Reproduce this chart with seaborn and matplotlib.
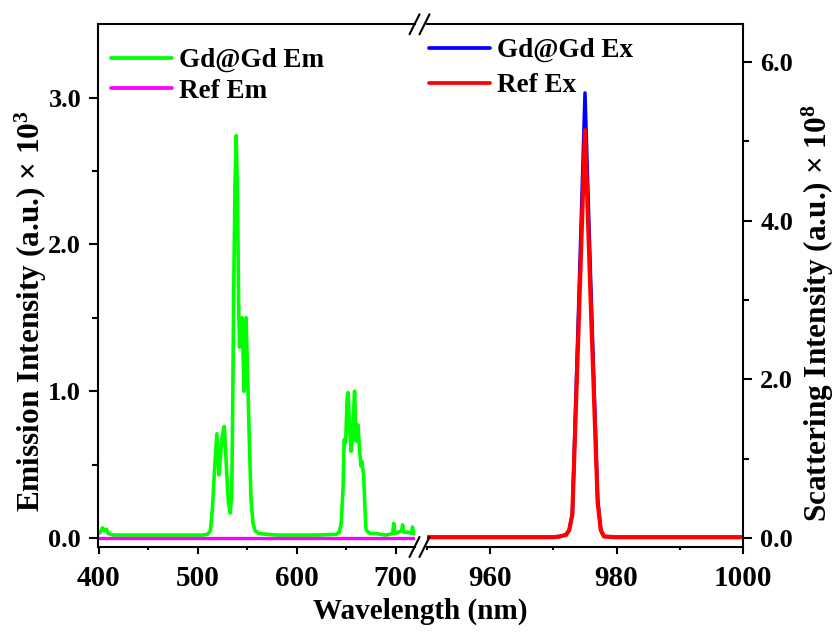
import numpy as np
import pandas as pd
import matplotlib
matplotlib.use("Agg")
import matplotlib.pyplot as plt
from matplotlib.lines import Line2D
from matplotlib.ticker import MultipleLocator, FixedLocator
import seaborn as sns

# ---------------- data ----------------
em_wavelength = [400, 402, 404, 406, 408, 410, 415, 430, 450, 470, 490, 505, 510, 513, 515, 517,
                 519.5, 521.5, 523, 525, 527, 529, 531, 533, 534.5, 535.5, 536.4, 537.8, 539, 540.4,
                 541.4, 542.4, 543.5, 545, 547, 548, 549, 551, 552.5, 554, 556, 558, 562, 580, 600,
                 620, 640, 643, 645, 646.9, 648, 649.5, 651, 652, 653.5, 655, 656.5, 658.5, 660,
                 661, 662, 663.5, 665, 666, 667.7, 669, 670, 672, 675, 680, 690, 697, 698, 699,
                 703, 706, 707, 708, 712, 716, 717, 718, 720]
gdgd_em = [0.03, 0.04, 0.07, 0.05, 0.06, 0.03, 0.02, 0.02, 0.02, 0.02, 0.02, 0.02, 0.025, 0.05, 0.2, 0.45,
           0.71, 0.43, 0.55, 0.70, 0.76, 0.50, 0.25, 0.17, 0.30, 0.90, 1.62, 2.41, 2.74, 2.30,
           1.62, 1.30, 1.45, 1.50, 1.00, 1.30, 1.50, 0.99, 0.60, 0.26, 0.10, 0.05, 0.03, 0.02, 0.02,
           0.02, 0.025, 0.04, 0.10, 0.35, 0.67, 0.65, 0.95, 0.99, 0.75, 0.59, 0.70, 1.00, 0.66,
           0.75, 0.77, 0.60, 0.49, 0.52, 0.42, 0.20, 0.06, 0.04, 0.03, 0.03, 0.02, 0.03, 0.10, 0.03,
           0.04, 0.05, 0.09, 0.04, 0.04, 0.03, 0.075, 0.03, 0.03]
ref_em_wavelength = [400, 500, 600, 700, 720]
ref_em = [0.0, 0.0, 0.0, 0.0, 0.0]

ex_wavelength = [950, 955, 960, 965, 970, 971, 972, 972.5, 973, 974, 975, 976, 977, 977.5, 978,
                 980, 985, 990, 995, 1000]
gdgd_ex = [0.01, 0.01, 0.01, 0.01, 0.01, 0.02, 0.04, 0.10, 0.30, 2.95, 5.61, 3.00, 0.50, 0.10, 0.02,
           0.01, 0.01, 0.01, 0.01, 0.01]
ref_ex = [0.01, 0.01, 0.01, 0.01, 0.01, 0.02, 0.04, 0.10, 0.30, 2.70, 5.14, 2.75, 0.45, 0.10, 0.02,
          0.01, 0.01, 0.01, 0.01, 0.01]

left_xticks = [400, 500, 600, 700]
right_xticks = [960, 980, 1000]
left_yticks = [0.0, 1.0, 2.0, 3.0]
right_yticks = [0.0, 2.0, 4.0, 6.0]

# ---------------- style ----------------
sns.set_style("ticks")
plt.rcParams['font.family'] = ['Liberation Serif', 'DejaVu Serif']
plt.rcParams['font.weight'] = 'bold'
plt.rcParams['mathtext.fontset'] = 'custom'
plt.rcParams['mathtext.rm'] = 'Liberation Serif:bold'
plt.rcParams['mathtext.it'] = 'Liberation Serif:italic:bold'
plt.rcParams['mathtext.bf'] = 'Liberation Serif:bold'
plt.rcParams['axes.edgecolor'] = 'black'
plt.rcParams['xtick.color'] = 'black'
plt.rcParams['ytick.color'] = 'black'
plt.rcParams['text.color'] = 'black'

W, H = 837, 633
fig = plt.figure(figsize=(W / 100, H / 100), dpi=100)

L1, R1, L2, R2, TOP, BOT = 98.5, 415.5, 427.0, 743.0, 24.3, 547.0
ax1 = fig.add_axes([L1 / W, (H - BOT) / H, (R1 - L1) / W, (BOT - TOP) / H])
ax2 = fig.add_axes([L2 / W, (H - BOT) / H, (R2 - L2) / W, (BOT - TOP) / H])

df_em = pd.DataFrame({"wl": em_wavelength, "val": gdgd_em})
df_ref_em = pd.DataFrame({"wl": ref_em_wavelength, "val": ref_em})
df_ex = pd.DataFrame({"wl": ex_wavelength, "gd": gdgd_ex, "ref": ref_ex})

sns.lineplot(data=df_em, x="wl", y="val", ax=ax1, color="#00FF00", linewidth=2.6,
             label="Gd@Gd Em", sort=False)
sns.lineplot(data=df_ref_em, x="wl", y="val", ax=ax1, color="#FF00FF", linewidth=2.4,
             label="Ref Em", sort=False)
sns.lineplot(data=df_ex, x="wl", y="gd", ax=ax2, color="#0000FF", linewidth=2.5,
             label="Gd@Gd Ex", sort=False)
sns.lineplot(data=df_ex, x="wl", y="ref", ax=ax2, color="#FF0000", linewidth=3.0,
             label="Ref Ex", sort=False)

ax1.set_xlim(400, 720)
ax1.set_ylim(-0.0613, 3.4986)
ax2.set_xlim(950, 1000)
ax2.set_ylim(-0.113, 6.475)

for ax in (ax1, ax2):
    for s in ax.spines.values():
        s.set_linewidth(1.5)
        s.set_color('black')
    ax.set_xlabel("")
    ax.set_ylabel("")

ax1.spines['right'].set_visible(False)
ax2.spines['left'].set_visible(False)
ax2.yaxis.tick_right()

ax1.xaxis.set_major_locator(FixedLocator(left_xticks))
ax1.xaxis.set_minor_locator(MultipleLocator(50))
ax1.yaxis.set_major_locator(FixedLocator(left_yticks))
ax1.yaxis.set_minor_locator(MultipleLocator(0.5))
ax1.set_yticklabels([f"{v:.1f}" for v in left_yticks])

ax2.xaxis.set_major_locator(FixedLocator(right_xticks))
ax2.xaxis.set_minor_locator(MultipleLocator(10))
ax2.yaxis.set_major_locator(FixedLocator(right_yticks))
ax2.yaxis.set_minor_locator(MultipleLocator(1.0))
ax2.set_yticklabels([f"{v:.1f}" for v in right_yticks])

for ax in (ax1, ax2):
    ax.tick_params(axis='x', which='major', length=5, width=1.5, labelsize=21, pad=8, direction='out')
    ax.tick_params(axis='x', which='minor', length=2.5, width=1.5, direction='out')
    ax.tick_params(axis='y', which='major', length=6.5, width=1.5, labelsize=19, pad=6, direction='out')
    ax.tick_params(axis='y', which='minor', length=4, width=1.5, direction='out')
    ax.tick_params(top=False, which='both')
ax1.tick_params(axis='y', which='both', right=False)
ax2.tick_params(axis='y', which='both', left=False, right=True)
for lab in ax1.get_xticklabels() + ax1.get_yticklabels() + ax2.get_xticklabels() + ax2.get_yticklabels():
    lab.set_fontweight('bold')

# legends
leg1 = ax1.legend(loc='upper left', bbox_to_anchor=(111 / W, 1 - 48 / H), bbox_transform=fig.transFigure,
                  frameon=False, fontsize=19.5, handlelength=2.25, handletextpad=0.26, labelspacing=0.22,
                  borderpad=0, borderaxespad=0)
leg2 = ax2.legend(loc='upper left', bbox_to_anchor=(429 / W, 1 - 38 / H), bbox_transform=fig.transFigure,
                  frameon=False, fontsize=19.5, handlelength=2.25, handletextpad=0.26, labelspacing=0.38,
                  borderpad=0, borderaxespad=0)
for leg in (leg1, leg2):
    for t in leg.get_texts():
        t.set_fontweight('bold')
    for h in leg.get_lines():
        h.set_linewidth(2.7)

# axis labels
fig.text(420 / W, 1 - 611 / H, "Wavelength (nm)", ha='center', va='center', fontsize=21, fontweight='bold')
fig.text(31 / W, 1 - 311 / H, "Emission Intensity (a.u.) \u00d7 10$^{3}$", ha='center', va='center',
         rotation=90, fontsize=22.5, fontweight='bold')
fig.text(818 / W, 1 - 313 / H, "Scattering Intensity (a.u.) \u00d7 10$^{8}$", ha='center', va='center',
         rotation=90, fontsize=22.5, fontweight='bold')

# axis-break marks
def px_line(x0, y0, x1, y1):
    fig.add_artist(Line2D([x0 / W, x1 / W], [1 - y0 / H, 1 - y1 / H], transform=fig.transFigure,
                          color='black', linewidth=1.5))

for yc in (TOP, BOT):
    px_line(409.5, yc + 10, 419.5, yc - 10)
    px_line(419.5, yc + 10, 429.5, yc - 10)

fig.savefig("out.png", dpi=100)
